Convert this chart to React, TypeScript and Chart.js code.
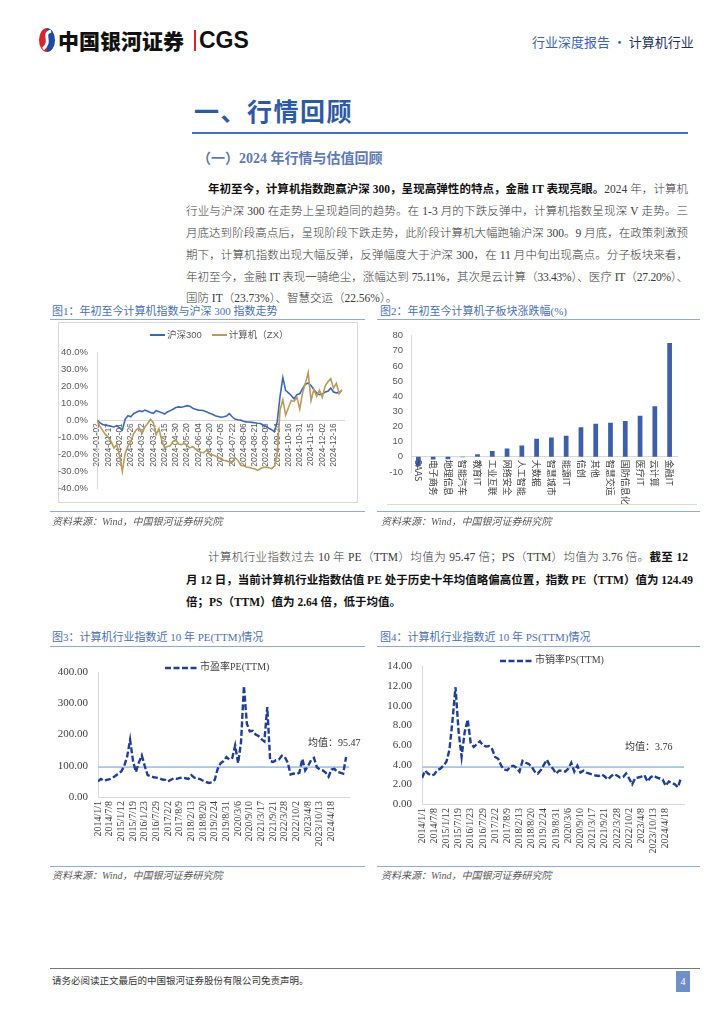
import React, { useEffect, useRef } from 'react';
import { Chart, registerables } from 'chart.js';

Chart.register(...registerables);

// ---------- Chart 1: 年初至今计算机指数与沪深300指数走势 ----------
const c1TickLabels = [
  '2024-01-02', '2024-01-17', '2024-02-01', '2024-02-26', '2024-03-12', '2024-03-27',
  '2024-04-15', '2024-04-30', '2024-05-20', '2024-06-04', '2024-06-20', '2024-07-05',
  '2024-07-22', '2024-08-06', '2024-08-21', '2024-09-05', '2024-09-24', '2024-10-16',
  '2024-10-31', '2024-11-15', '2024-12-02', '2024-12-16',
];
const C1_TICK_STEP = 11; // trading days between tick labels
const C1_SAMPLE_STEP = 2.75; // trading days between samples
const C1_X_MAX = 242;
const hs300 = [
  0, -1.5, -2.5, -3.0, -3.2, -3.6, -4.0, -3.2, -4.4, -5.8,
  0.5, 2.6, 2.0, 3.8, 4.6, 5.5, 5.0, 5.9, 5.2, 4.5,
  4.0, 5.6, 5.0, 4.4, 3.6, 4.8, 5.6, 6.4, 7.4, 7.8,
  7.6, 8.0, 8.5, 8.2, 7.0, 6.4, 5.9, 5.8, 5.5, 4.8,
  4.0, 3.4, 2.6, 2.2, 1.7, 2.0, 2.4, 3.8, 2.0, 0.6,
  0.2, 0.0, -0.6, -1.0, -1.1, -1.3, -1.5, -1.8, -2.0, -2.8,
  -3.6, -4.8, -5.6, -6.8, -1.0, 14.0, 25.0, 17.5, 16.0, 14.5,
  12.5, 15.0, 15.5, 18.5, 21.0, 21.8, 20.3, 18.0, 16.0, 15.0,
  15.3, 16.5, 17.0, 18.8, 16.5, 16.0, 16.3, 17.5,
];
const jsj = [
  0, -3.5, -6.0, -8.5, -10.0, -12.5, -16.3, -14.4, -20.5, -30.0,
  -19.5, -15.3, -12.5, -8.0, -5.5, -4.5, -7.8, -4.0, -2.0, 0.5,
  -1.5, -8.5, -5.0, -12.0, -16.3, -15.5, -15.0, -12.5, -11.6, -14.0,
  -14.4, -13.5, -15.0, -16.3, -15.5, -17.0, -18.2, -19.0, -19.0, -17.5,
  -20.0, -20.5, -21.0, -22.0, -22.9, -23.5, -23.9, -24.5, -24.8, -22.0,
  -23.5, -26.3, -26.8, -27.5, -27.7, -28.2, -28.6, -29.5, -28.5, -27.8,
  -27.5, -28.0, -28.5, -27.0, -20.0, 6.0, 12.0, 3.0, 7.4, 11.5,
  11.0, 13.5, 6.5, 16.0, 21.6, 28.0, 11.5, 18.0, 14.0, 17.5,
  13.5, 20.0, 22.5, 24.4, 18.8, 21.6, 15.5, 17.8,
];

// ---------- Chart 2: 子板块涨跌幅(%) ----------
const c2Categories = [
  'SAAS', '电子商务', '地理信息', '智能汽车', '教育IT', '工业互联', '网络安全', '人工智能', '大数据',
  '智慧城市', '能源IT', '信创', '其他', '智慧交运', '国防信息化', '医疗IT', '云计算', '金融IT',
];
const c2Values = [
  -6.0, -1.8, -1.5, -0.2, 1.7, 3.8, 5.5, 7.5, 12.0,
  12.8, 14.0, 19.6, 21.8, 22.56, 23.73, 27.2, 33.43, 75.11,
];

// ---------- Chart 3 / 4: PE(TTM) & PS(TTM) ----------
const valTickLabels = [
  '2014/1/1', '2014/7/8', '2015/1/12', '2015/7/19', '2016/1/23', '2016/7/29', '2017/2/2',
  '2017/8/9', '2018/2/13', '2018/8/20', '2019/2/24', '2019/8/31', '2020/3/6', '2020/9/10',
  '2021/3/17', '2021/9/21', '2022/3/28', '2022/10/2', '2023/4/8', '2023/10/13', '2024/4/18',
];
const VAL_SAMPLE_STEP = 0.25; // in tick intervals (188 days)
const VAL_X_MAX = 21.5;
const peValues = [
  50, 58, 52, 55, 57, 61, 68, 75, 82, 100,
  130, 183, 115, 80, 110, 133, 100, 70, 67, 63,
  62, 60, 56, 55, 50, 55, 60, 58, 61, 62,
  60, 58, 70, 62, 60, 57, 52, 48, 45, 47,
  55, 90, 108, 115, 128, 120,
  125, 165, 108, 175, 355, 235, 210, 212, 200, 195,
  185, 178, 288, 115, 112, 118, 120, 132, 128, 110,
  72, 75, 73, 78, 122, 85, 100, 118, 125, 95,
  88, 85, 78, 65, 88, 90, 80, 78, 75, 128,
];
const PE_MEAN = 95.47;
const psValues = [
  2.65, 3.4, 3.1, 2.9, 3.0, 3.45, 3.6, 3.9, 4.3, 5.5,
  8.5, 11.9, 7.4, 4.8, 7.3, 8.6, 6.2, 5.8, 6.1, 6.4,
  6.0, 5.85, 5.9, 5.6, 4.8, 4.6, 3.9, 3.5, 3.45, 3.8,
  3.9, 3.7, 3.3, 4.4, 4.2, 4.1, 3.8, 3.3, 3.1, 3.45,
  4.0, 4.5, 3.9, 3.6, 3.1, 3.4, 3.4, 3.3, 3.6, 4.2,
  3.3, 3.9, 3.2, 3.4, 3.2, 3.1, 3.0, 2.9, 2.85, 3.0,
  2.8, 2.5, 2.8, 3.05, 2.9, 2.7, 2.75, 3.1, 2.6, 2.0,
  2.65, 2.7, 2.8, 2.95, 2.3, 2.7, 2.9, 2.7, 2.6, 2.5,
  1.85, 2.3, 2.15, 2.0, 1.7, 2.65,
];
const PS_MEAN = 3.76;

// ---------- styles ----------
const SERIF = "'Liberation Serif', 'Noto Sans CJK SC', serif";
const CJK = "'Noto Sans CJK SC', sans-serif";
const SANS = "'Liberation Sans', 'Noto Sans CJK SC', sans-serif";
const BLUE_LINE = '#203e96';
const MEAN_LINE = '#a9c3ea';
const AXIS_GREY = '#d9d9d9';

function lineChart1(canvas: HTMLCanvasElement) {
  return new Chart(canvas, {
    type: 'line',
    data: {
      datasets: [
        {
          label: '沪深300',
          data: hs300.map((v, i) => ({ x: i * C1_SAMPLE_STEP, y: v })),
          borderColor: '#3d67b6',
          borderWidth: 1.6,
          pointRadius: 0,
          order: 1,
        },
        {
          label: '计算机（ZX）',
          data: jsj.map((v, i) => ({ x: i * C1_SAMPLE_STEP, y: v })),
          borderColor: '#b99a5f',
          borderWidth: 1.6,
          pointRadius: 0,
          order: 0,
        },
      ],
    },
    options: {
      animation: false,
      responsive: false,
      layout: { padding: { top: 30, right: 6, bottom: 10, left: 0 } },
      plugins: { legend: { display: false }, tooltip: { enabled: false } },
      scales: {
        x: {
          type: 'linear',
          position: { y: 0 } as any,
          min: 0,
          max: C1_X_MAX,
          grid: { display: false, drawTicks: false },
          border: { display: true, color: AXIS_GREY },
          ticks: {
            stepSize: C1_TICK_STEP,
            autoSkip: false,
            maxTicksLimit: 40,
            minRotation: 90,
            maxRotation: 90,
            padding: 3,
            color: '#595959',
            font: { family: SANS, size: 8.5 },
            callback: (v: any) => {
              const k = Number(v) / C1_TICK_STEP;
              return Number.isInteger(k) && c1TickLabels[k] ? c1TickLabels[k] : '';
            },
          },
        },
        y: {
          min: -40,
          max: 40,
          grid: { display: false, drawTicks: false },
          border: { display: true, color: AXIS_GREY },
          ticks: {
            stepSize: 10,
            padding: 9,
            color: '#595959',
            font: { family: SANS, size: 9.5 },
            callback: (v: any) => Number(v).toFixed(1) + '%',
          },
          afterFit: (s: any) => {
            s.width = 39;
          },
        },
      },
    },
  });
}

const barLabelPlugin = {
  id: 'barLabels',
  afterDraw(chart: any) {
    const { ctx } = chart;
    const xs = chart.scales.x;
    const y0 = chart.scales.y.getPixelForValue(0);
    ctx.save();
    ctx.fillStyle = '#404040';
    ctx.font = `9px ${CJK}`;
    ctx.textAlign = 'left';
    ctx.textBaseline = 'middle';
    c2Categories.forEach((label, i) => {
      const x = xs.getPixelForValue(i);
      ctx.save();
      ctx.translate(x, y0 + 3);
      ctx.rotate(Math.PI / 2);
      ctx.fillText(label, 0, 0);
      ctx.restore();
    });
    ctx.restore();
  },
};

function barChart2(canvas: HTMLCanvasElement) {
  return new Chart(canvas, {
    type: 'bar',
    data: {
      labels: c2Categories,
      datasets: [
        {
          label: '涨跌幅',
          data: c2Values,
          backgroundColor: '#3d5ea9',
          barPercentage: 0.32,
          categoryPercentage: 1,
        },
      ],
    },
    options: {
      animation: false,
      responsive: false,
      layout: { padding: { top: 9, right: 23, bottom: 38, left: 0 } },
      plugins: { legend: { display: false }, tooltip: { enabled: false } },
      scales: {
        x: {
          position: { y: 0 } as any,
          grid: { display: false, drawTicks: false },
          border: { display: true, color: AXIS_GREY },
          ticks: { display: false },
        },
        y: {
          min: -10,
          max: 80,
          grid: { display: false, drawTicks: false },
          border: { display: true, color: AXIS_GREY },
          ticks: { stepSize: 10, padding: 8, color: '#595959', font: { family: SANS, size: 9.5 } },
          afterFit: (s: any) => {
            s.width = 33;
          },
        },
      },
    },
    plugins: [barLabelPlugin],
  });
}

function valuationChart(
  canvas: HTMLCanvasElement,
  values: number[],
  mean: number,
  label: string,
  yMax: number,
  yStep: number,
  yWidth: number,
  padTop: number,
  padRight: number,
  xHeight: number,
) {
  return new Chart(canvas, {
    type: 'line',
    data: {
      datasets: [
        {
          label,
          data: values.map((v, i) => ({ x: i * VAL_SAMPLE_STEP, y: v })),
          borderColor: BLUE_LINE,
          borderWidth: 2.4,
          borderDash: [6, 2.5],
          pointRadius: 0,
          order: 0,
        },
        {
          label: '均值',
          data: [
            { x: 0, y: mean },
            { x: VAL_X_MAX, y: mean },
          ],
          borderColor: MEAN_LINE,
          borderWidth: 1.8,
          pointRadius: 0,
          order: 1,
        },
      ],
    },
    options: {
      animation: false,
      responsive: false,
      layout: { padding: { top: padTop, right: padRight, bottom: 0, left: 0 } },
      plugins: { legend: { display: false }, tooltip: { enabled: false } },
      scales: {
        x: {
          type: 'linear',
          min: 0,
          max: VAL_X_MAX,
          grid: { display: false, drawTicks: false },
          border: { display: true, color: AXIS_GREY },
          ticks: {
            stepSize: 1,
            autoSkip: false,
            maxTicksLimit: 40,
            minRotation: 90,
            maxRotation: 90,
            padding: 4,
            color: '#404040',
            font: { family: SERIF, size: 10 },
            callback: (v: any) => {
              const k = Number(v);
              return Number.isInteger(k) && valTickLabels[k] ? valTickLabels[k] : '';
            },
          },
          afterFit: (s: any) => {
            s.height = xHeight;
          },
        },
        y: {
          min: 0,
          max: yMax,
          grid: { display: false, drawTicks: false },
          border: { display: true, color: AXIS_GREY },
          ticks: {
            stepSize: yStep,
            padding: 10,
            color: '#404040',
            font: { family: SERIF, size: 11 },
            callback: (v: any) => Number(v).toFixed(2),
          },
          afterFit: (s: any) => {
            s.width = yWidth;
          },
        },
      },
    },
  });
}

function ChartCanvas(props: {
  left: number;
  top: number;
  width: number;
  height: number;
  build: (c: HTMLCanvasElement) => Chart;
}) {
  const ref = useRef<HTMLCanvasElement | null>(null);
  useEffect(() => {
    if (!ref.current) return;
    const chart = props.build(ref.current);
    return () => chart.destroy();
  }, []);
  return (
    <canvas
      ref={ref}
      width={props.width}
      height={props.height}
      style={{ position: 'absolute', left: props.left, top: props.top, width: props.width, height: props.height }}
    />
  );
}

function Txt(props: { x: number; y: number; size: number; children: any; style?: any }) {
  const lh = Math.round(props.size * 1.5);
  return (
    <div
      style={{
        position: 'absolute',
        left: props.x,
        top: props.y - lh / 2,
        height: lh,
        lineHeight: `${lh}px`,
        fontSize: props.size,
        whiteSpace: 'nowrap',
        fontFamily: SERIF,
        ...(props.style || {}),
      }}
    >
      {props.children}
    </div>
  );
}

function PLine(props: { y: number; indent?: boolean; last?: boolean; children: any }) {
  const left = props.indent ? 208 : 186;
  return (
    <div
      style={{
        position: 'absolute',
        left,
        width: 688 - left,
        top: props.y - 9,
        height: 18,
        lineHeight: '18px',
        fontSize: 11.5,
        fontFamily: SERIF,
        fontWeight: 300,
        color: '#3a3a3a',
        whiteSpace: 'nowrap',
        textAlign: 'justify',
        textAlignLast: props.last ? 'left' : 'justify',
      }}
    >
      {props.children}
    </div>
  );
}

function HLine(props: { x1: number; x2: number; y: number; color: string; h?: number }) {
  return (
    <div
      style={{
        position: 'absolute',
        left: props.x1,
        top: props.y,
        width: props.x2 - props.x1,
        height: props.h || 1,
        background: props.color,
      }}
    />
  );
}

function LegendLine(props: { color: string; width: number; dashed?: boolean; thick?: number }) {
  return (
    <svg width={props.width} height={6} style={{ display: 'inline-block', verticalAlign: 'middle' }}>
      <line
        x1={0}
        y1={3}
        x2={props.width}
        y2={3}
        stroke={props.color}
        strokeWidth={props.thick || 2}
        strokeDasharray={props.dashed ? '6 2.5' : undefined}
      />
    </svg>
  );
}

const B = (p: { children: any }) => <b style={{ fontWeight: 700, color: '#111' }}>{p.children}</b>;

export default function App() {
  const figTitle = { color: '#4a70b5', fontFamily: SERIF };
  const srcStyle = { color: '#595959', fontStyle: 'italic', fontFamily: SERIF };
  return (
    <div
      style={{
        position: 'absolute',
        left: 0,
        top: 0,
        width: 724,
        height: 1024,
        background: '#fff',
        overflow: 'hidden',
        fontFamily: SERIF,
      }}
    >
      {/* header */}
      <svg width={18} height={26} viewBox="0 0 18 26" style={{ position: 'absolute', left: 38, top: 27 }}>
        <path d="M9 1 A8 12 0 0 0 9 25 Z" fill="#d8262c" />
        <path d="M9 1 A8 12 0 0 1 9 25 Z" fill="#1c4c9f" />
        <path d="M13 4 C3 7, 15 14, 5 22" stroke="#fff" strokeWidth={3} fill="none" />
      </svg>
      <Txt x={58} y={40} size={21} style={{ fontFamily: CJK, fontWeight: 900, color: '#111' }}>
        中国银河证券
      </Txt>
      <div style={{ position: 'absolute', left: 194, top: 30, width: 1.5, height: 21, background: '#d8262c' }} />
      <Txt x={199} y={40} size={23} style={{ fontFamily: SANS, fontWeight: 700, color: '#111' }}>
        CGS
      </Txt>
      <Txt x={532} y={42} size={13} style={{ fontFamily: CJK }}>
        <span style={{ color: '#3b62b0' }}>行业深度报告</span>
        <span style={{ color: '#3b62b0' }}> · </span>
        <span style={{ color: '#1f2f5c' }}>计算机行业</span>
      </Txt>

      {/* section heading */}
      <Txt x={194} y={110} size={25} style={{ fontFamily: CJK, fontWeight: 700, color: '#2d5aa6', letterSpacing: 1.5 }}>
        一、行情回顾
      </Txt>
      <HLine x1={192} x2={688} y={132} color="#4472c4" h={2} />
      <Txt x={197} y={158} size={14} style={{ fontWeight: 700, color: '#5f78b6' }}>
        （一）2024 年行情与估值回顾
      </Txt>

      {/* paragraph 1 */}
      <PLine y={188.5} indent>
        <B>年初至今，计算机指数跑赢沪深 300，呈现高弹性的特点，金融 IT 表现亮眼。</B>2024 年，计算机
      </PLine>
      <PLine y={210.5}>行业与沪深 300 在走势上呈现趋同的趋势。在 1-3 月的下跌反弹中，计算机指数呈现深 V 走势。三</PLine>
      <PLine y={232.5}>月底达到阶段高点后，呈现阶段下跌走势，此阶段计算机大幅跑输沪深 300。9 月底，在政策刺激预</PLine>
      <PLine y={254.5}>期下，计算机指数出现大幅反弹，反弹幅度大于沪深 300，在 11 月中旬出现高点。分子板块来看，</PLine>
      <PLine y={276.5}>
        <span style={{ letterSpacing: -0.25 }}>
          年初至今，金融 IT 表现一骑绝尘，涨幅达到 75.11%，其次是云计算（33.43%）、医疗 IT（27.20%）、
        </span>
      </PLine>
      <PLine y={298} last>
        国防 IT（23.73%）、智慧交运（22.56%）。
      </PLine>

      {/* figure 1 & 2 titles */}
      <Txt x={52} y={311} size={11} style={figTitle}>
        图1：年初至今计算机指数与沪深 300 指数走势
      </Txt>
      <HLine x1={50} x2={365} y={319} color="#8eaadb" />
      <Txt x={380} y={311} size={11} style={figTitle}>
        图2：年初至今计算机子板块涨跌幅(%)
      </Txt>
      <HLine x1={377} x2={700} y={319} color="#8eaadb" />

      {/* chart 1 */}
      <div
        style={{
          position: 'absolute',
          left: 58,
          top: 322,
          width: 300,
          height: 181,
          border: `1px solid ${AXIS_GREY}`,
          boxSizing: 'border-box',
        }}
      />
      <ChartCanvas left={58} top={322} width={300} height={181} build={lineChart1} />
      <div
        style={{
          position: 'absolute',
          left: 150,
          top: 328,
          fontSize: 9.5,
          fontFamily: SANS,
          color: '#595959',
          whiteSpace: 'nowrap',
          lineHeight: '14px',
        }}
      >
        <LegendLine color="#3d67b6" width={15} />
        <span style={{ marginLeft: 2 }}>沪深300</span>
        <span style={{ display: 'inline-block', width: 10 }} />
        <LegendLine color="#b99a5f" width={15} />
        <span style={{ marginLeft: 2 }}>计算机（ZX）</span>
      </div>

      {/* chart 2 */}
      <ChartCanvas left={378} top={322} width={322} height={188} build={barChart2} />
      <HLine x1={387} x2={697} y={504} color={AXIS_GREY} />

      {/* sources row 1 */}
      <HLine x1={50} x2={365} y={511} color="#8faadc" />
      <HLine x1={377} x2={700} y={511} color="#8faadc" />
      <Txt x={52} y={521} size={10} style={srcStyle}>
        资料来源：Wind，中国银河证券研究院
      </Txt>
      <Txt x={381} y={521} size={10} style={srcStyle}>
        资料来源：Wind，中国银河证券研究院
      </Txt>

      {/* paragraph 2 */}
      <PLine y={557} indent>
        计算机行业指数过去 10 年 PE（TTM）均值为 95.47 倍；PS（TTM）均值为 3.76 倍。<B>截至 12</B>
      </PLine>
      <PLine y={579.5}>
        <B>月 12 日，当前计算机行业指数估值 PE 处于历史十年均值略偏高位置，指数 PE（TTM）值为 124.49</B>
      </PLine>
      <PLine y={602} last>
        <B>倍；PS（TTM）值为 2.64 倍，低于均值。</B>
      </PLine>

      {/* figure 3 & 4 titles */}
      <Txt x={52} y={637} size={11} style={figTitle}>
        图3：计算机行业指数近 10 年 PE(TTM)情况
      </Txt>
      <HLine x1={50} x2={365} y={646} color="#8eaadb" />
      <Txt x={380} y={637} size={11} style={figTitle}>
        图4：计算机行业指数近 10 年 PS(TTM)情况
      </Txt>
      <HLine x1={377} x2={700} y={646} color="#8eaadb" />

      {/* chart 3 */}
      <ChartCanvas
        left={52}
        top={650}
        width={313}
        height={212}
        build={(c) => valuationChart(c, peValues, PE_MEAN, '市盈率PE(TTM)', 400, 100, 46, 22, 12, 65)}
      />
      <div
        style={{
          position: 'absolute',
          left: 165,
          top: 660,
          fontSize: 10,
          fontFamily: SERIF,
          color: '#404040',
          whiteSpace: 'nowrap',
          lineHeight: '14px',
        }}
      >
        <LegendLine color={BLUE_LINE} width={32} dashed thick={2.4} />
        <span style={{ marginLeft: 3 }}>市盈率PE(TTM)</span>
      </div>
      <Txt x={308} y={742} size={10} style={{ color: '#333' }}>
        均值：95.47
      </Txt>

      {/* chart 4 */}
      <ChartCanvas
        left={378}
        top={650}
        width={322}
        height={212}
        build={(c) => valuationChart(c, psValues, PS_MEAN, '市销率PS(TTM)', 14, 2, 44, 8, 16, 58)}
      />
      <div
        style={{
          position: 'absolute',
          left: 500,
          top: 653,
          fontSize: 10,
          fontFamily: SERIF,
          color: '#404040',
          whiteSpace: 'nowrap',
          lineHeight: '14px',
        }}
      >
        <LegendLine color={BLUE_LINE} width={32} dashed thick={2.4} />
        <span style={{ marginLeft: 3 }}>市销率PS(TTM)</span>
      </div>
      <Txt x={625} y={746} size={10} style={{ color: '#333' }}>
        均值：3.76
      </Txt>

      {/* sources row 2 */}
      <HLine x1={50} x2={365} y={866} color="#8faadc" />
      <HLine x1={377} x2={700} y={866} color="#8faadc" />
      <Txt x={52} y={875} size={10} style={srcStyle}>
        资料来源：Wind，中国银河证券研究院
      </Txt>
      <Txt x={381} y={875} size={10} style={srcStyle}>
        资料来源：Wind，中国银河证券研究院
      </Txt>

      {/* footer */}
      <HLine x1={50} x2={700} y={968} color="#777" />
      <Txt x={52} y={981} size={9.5} style={{ color: '#333' }}>
        请务必阅读正文最后的中国银河证券股份有限公司免责声明。
      </Txt>
      <div
        style={{
          position: 'absolute',
          left: 676,
          top: 971,
          width: 14,
          height: 21,
          background: '#6f8fc9',
          color: '#fff',
          fontSize: 10,
          lineHeight: '21px',
          textAlign: 'center',
          fontFamily: SERIF,
        }}
      >
        4
      </div>
    </div>
  );
}
